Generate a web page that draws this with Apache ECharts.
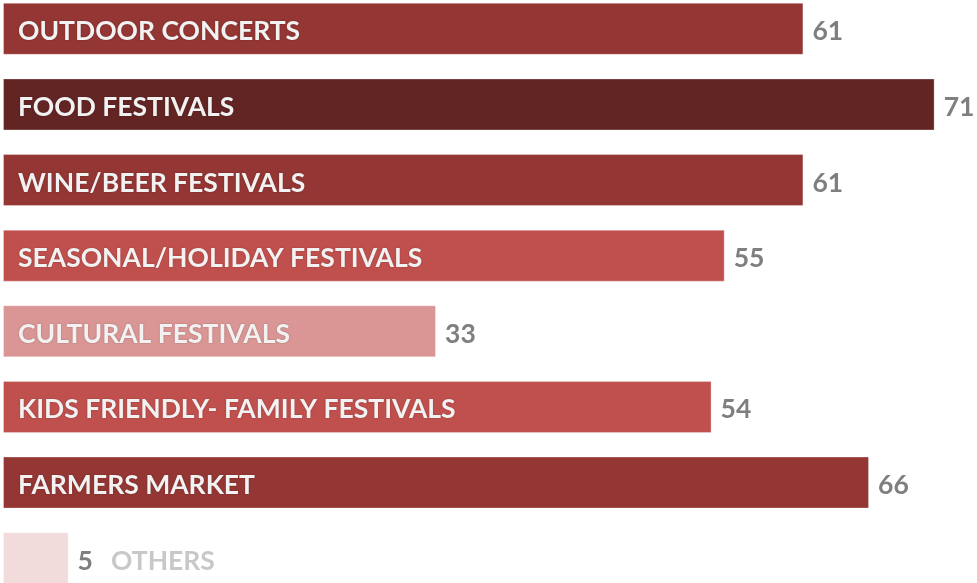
<!DOCTYPE html>
<html>
<head>
<meta charset="utf-8">
<script src="https://cdn.jsdelivr.net/npm/echarts@6/dist/echarts.min.js"></script>
<style>
html,body{margin:0;padding:0;background:#fff;overflow:hidden;width:977px;height:583px;position:relative;}
#chart{width:977px;height:605px;position:absolute;left:0;top:-9px;}
</style>
</head>
<body>
<div id="chart"></div>
<script>
const categories = ['OUTDOOR CONCERTS','FOOD FESTIVALS','WINE/BEER FESTIVALS','SEASONAL/HOLIDAY FESTIVALS','CULTURAL FESTIVALS','KIDS FRIENDLY- FAMILY FESTIVALS','FARMERS MARKET','OTHERS'];
const values = [61, 71, 61, 55, 33, 54, 66, 5];
const barColors = ['#943634','#632523','#943634','#C0504D','#D99694','#C0504D','#943634','#F2DCDB'];

const FONT = 'Lato';
const chart = echarts.init(document.getElementById('chart'));
const lastIdx = categories.length - 1;

chart.setOption({
  animation: false,
  grid: { left: 3, right: 3, top: 0, bottom: 0, containLabel: false },
  xAxis: { type: 'value', min: 0, max: 74, show: false },
  yAxis: { type: 'category', data: categories, inverse: true, show: false },
  series: [
    {
      type: 'bar',
      barWidth: 52,
      data: values.map((v, i) => ({
        value: v,
        itemStyle: { color: barColors[i], borderColor: 'rgba(255,255,255,0.3)', borderWidth: 1 }
      })),
      label: {
        show: true,
        position: 'insideLeft',
        distance: 15,
        offset: [0, 3],
        formatter: p => p.dataIndex === lastIdx ? '' : p.name,
        color: '#F2F2F2',
        fontFamily: FONT,
        fontWeight: 'bold',
        fontSize: 26.5,
        textShadowColor: 'rgba(0,0,0,0.25)',
        textShadowBlur: 2
      }
    },
    {
      type: 'bar',
      barWidth: 52,
      barGap: '-100%',
      silent: true,
      itemStyle: { color: 'rgba(0,0,0,0)' },
      data: values,
      label: {
        show: true,
        position: 'right',
        distance: 9,
        offset: [0, 3],
        formatter: p => p.dataIndex === lastIdx ? '{v|' + p.value + '}{n|' + p.name + '}' : '{v|' + p.value + '}',
        rich: {
          v: { color: '#7F7F7F', fontFamily: FONT, fontWeight: 'bold', fontSize: 26.5 },
          n: { color: '#C8C8C8', fontFamily: FONT, fontWeight: 'bold', fontSize: 26.5, padding: [0, 0, 0, 18] }
        }
      }
    }
  ]
});
</script>
</body>
</html>
